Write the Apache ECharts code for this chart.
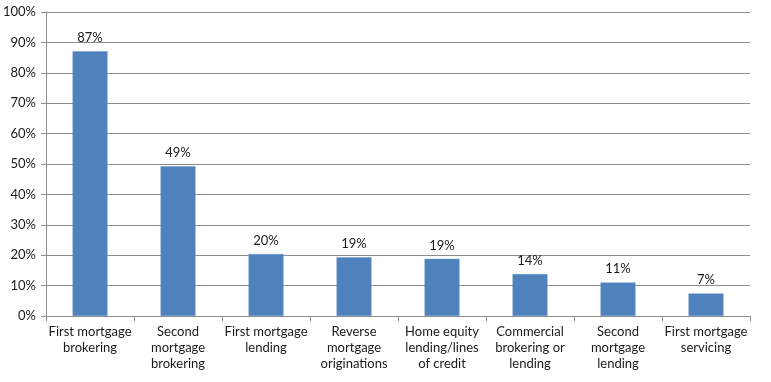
<!DOCTYPE html>
<html>
<head>
<meta charset="utf-8">
<script src="https://cdn.jsdelivr.net/npm/echarts@6/dist/echarts.min.js"></script>
<style>
html,body{margin:0;padding:0;background:#fff;}
#chart{width:771px;height:382px;}
</style>
</head>
<body>
<div id="chart"></div>
<script>
const categories = [
  "First mortgage\nbrokering",
  "Second\nmortgage\nbrokering",
  "First mortgage\nlending",
  "Reverse\nmortgage\noriginations",
  "Home equity\nlending/lines\nof credit",
  "Commercial\nbrokering or\nlending",
  "Second\nmortgage\nlending",
  "First mortgage\nservicing"
];
const values = [87.1, 49.3, 20.4, 19.3, 18.8, 13.8, 11.0, 7.4];
const yTicks = { min: 0, max: 100, interval: 10 };

const chart = echarts.init(document.getElementById('chart'), null, { renderer: 'canvas' });
const font = 'Lato, "Open Sans", sans-serif';
chart.setOption({
  animation: false,
  backgroundColor: '#ffffff',
  grid: { left: 46, right: 21, top: 12, bottom: 66, containLabel: false },
  xAxis: {
    type: 'category',
    data: categories,
    axisLine: { show: true, lineStyle: { color: '#8c8c8c', width: 1 } },
    axisTick: { show: true, interval: 0, length: 5, lineStyle: { color: '#8c8c8c' } },
    axisLabel: { interval: 0, color: '#1a1a1a', fontSize: 13, fontFamily: font, lineHeight: 16, margin: 8 }
  },
  yAxis: {
    type: 'value',
    min: yTicks.min, max: yTicks.max, interval: yTicks.interval,
    axisLine: { show: true, lineStyle: { color: '#8c8c8c', width: 1 } },
    axisTick: { show: true, length: 5, lineStyle: { color: '#8c8c8c' } },
    axisLabel: { formatter: '{value}%', color: '#1a1a1a', fontSize: 13, fontFamily: font, margin: 10 },
    splitLine: { show: true, lineStyle: { color: '#8c8c8c', width: 1 } }
  },
  series: [{
    type: 'bar',
    data: values,
    barWidth: 35,
    itemStyle: { color: '#4f81bd', borderColor: '#6f97c8', borderWidth: 0.5 },
    label: {
      show: true, position: 'top', distance: 7,
      formatter: p => Math.round(p.value) + '%',
      color: '#1a1a1a', fontSize: 13, fontFamily: font
    }
  }]
});
</script>
</body>
</html>
